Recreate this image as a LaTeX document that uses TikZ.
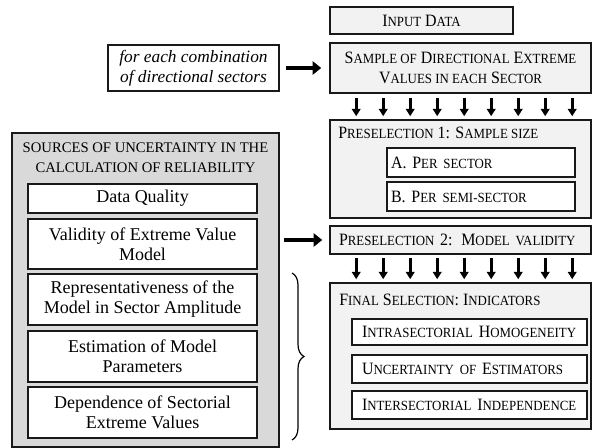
\documentclass[tikz,border=0pt]{standalone}
\usepackage{fontspec}
\setmainfont{Liberation Serif}
\newfontfamily\scfont[FakeStretch=0.92]{Liberation Serif}
\usepackage{tikz}
\usetikzlibrary{arrows.meta,decorations.pathreplacing}
\newlength\px
\setlength\px{0.75pt}
\newcommand\lowcap[1]{{\fontsize{10.5}{12}\selectfont #1}}

\begin{document}
\begin{tikzpicture}[x=\px, y=-\px,
  font=\fontsize{13.5}{15}\selectfont,
  graybox/.style={draw=black!90, fill=black!5, line width=1.2pt, inner sep=0pt},
  whitebox/.style={draw=black!90, fill=white, line width=1pt, inner sep=0pt},
  sctext/.style={font=\scfont\fontsize{13}{15}\selectfont},
  thickarrow/.style={line width=3.4pt, -{Triangle[length=6.5pt,width=10pt]}},
  dnarrow/.style={line width=2.2pt, -{Triangle[length=5.5pt,width=6.5pt]}}]

\useasboundingbox (0,0) rectangle (592,448);

% right column
\node[graybox, sctext, minimum width=183\px, minimum height=27\px] (input) at (421.5,20.5) {I\lowcap{NPUT} D\lowcap{ATA}};
\node[graybox, sctext, minimum width=261\px, minimum height=50\px, align=center] (sample) at (460.5,68)
  {S\lowcap{AMPLE OF} D\lowcap{IRECTIONAL} E\lowcap{XTREME}\\ V\lowcap{ALUES IN EACH} S\lowcap{ECTOR}};

\node[graybox, minimum width=261\px, minimum height=98\px] (pre1) at (460.5,169) {};
\node[sctext, anchor=west, inner sep=0pt] (pre1title) at (338,133) {P\lowcap{RESELECTION} 1: S\lowcap{AMPLE SIZE}};
\node[whitebox, sctext, minimum height=29\px, text width=180\px, inner xsep=4\px, align=left] (persec) at (481,162.5) {A. P\lowcap{ER SECTOR}};
\node[whitebox, sctext, minimum height=29\px, text width=180\px, inner xsep=4\px, align=left] (semisec) at (481,196.5) {B. P\lowcap{ER SEMI-SECTOR}};

\node[graybox, sctext, minimum height=28\px, text width=243\px, inner xsep=9\px, align=left] (pre2) at (460.5,240) {P\lowcap{RESELECTION} 2: M\lowcap{ODEL VALIDITY}};

\node[graybox, minimum width=261\px, minimum height=146\px] (final) at (460.5,356) {};
\node[sctext, anchor=west, inner sep=0pt] (finaltitle) at (339,300) {F\lowcap{INAL} S\lowcap{ELECTION}: I\lowcap{NDICATORS}};
\node[whitebox, sctext, minimum height=26\px, text width=215\px, inner xsep=10\px, align=left] (intra) at (469.5,332) {I\lowcap{NTRASECTORIAL} H\lowcap{OMOGENEITY}};
\node[whitebox, sctext, minimum height=28\px, text width=215\px, inner xsep=10\px, align=left] (uncert) at (469.5,369) {U\lowcap{NCERTAINTY OF} E\lowcap{STIMATORS}};
\node[whitebox, sctext, minimum height=28\px, text width=215\px, inner xsep=10\px, align=left] (inter) at (469.5,405) {I\lowcap{NTERSECTORIAL} I\lowcap{NDEPENDENCE}};

% left column
\node[whitebox, minimum width=171\px, minimum height=46\px, align=center, font=\fontsize{13}{15}\selectfont] (foreach) at (193.5,68)
  {\textit{for each combination}\\ \textit{of directional sectors}};

\node[graybox, fill=black!15, minimum width=267\px, minimum height=314\px] (sources) at (145.5,290) {};
\node[align=center, inner sep=0pt, font=\fontsize{11}{15}\selectfont] (sourcestitle) at (145.5,158)
  {SOURCES OF UNCERTAINTY IN THE\\ CALCULATION OF RELIABILITY};
\node[whitebox, minimum width=229\px, minimum height=29\px] (quality) at (142.5,198.5) {Data Quality};
\node[whitebox, minimum width=229\px, minimum height=50\px, align=center] (validity) at (142.5,244)
  {Validity of Extreme Value\\ Model};
\node[whitebox, minimum width=229\px, minimum height=51\px, align=center] (repres) at (142.5,299.5)
  {Representativeness of the\\ Model in Sector Amplitude};
\node[whitebox, minimum width=229\px, minimum height=51\px, align=center] (estim) at (142.5,356.5)
  {Estimation of Model\\ Parameters};
\node[whitebox, minimum width=229\px, minimum height=51\px, align=center] (depend) at (142.5,412.5)
  {Dependence of Sectorial\\ Extreme Values};

% arrows
\draw[thickarrow, shorten <=6\px, shorten >=8\px] (foreach) -- (sample);
\draw[thickarrow, shorten <=4\px, shorten >=7\px] (sources.east |- pre2.west) -- (pre2.west);

\foreach \i in {1,...,9} {
  \draw[dnarrow, shorten <=4\px, shorten >=3\px] ([xshift=27*\i\px]sample.south west) -- ([xshift=27*\i\px]pre1.north west);
  \draw[dnarrow, shorten <=3\px, shorten >=3\px] ([xshift=27*\i\px]pre2.south west) -- ([xshift=27*\i\px]final.north west);
}

% brace
\coordinate (bracetop) at (292,273);
\coordinate (bracebot) at (292,440);
\draw[line width=0.9pt, decorate, decoration={brace, amplitude=12\px}] (bracetop) -- (bracebot);

\end{tikzpicture}
\end{document}
